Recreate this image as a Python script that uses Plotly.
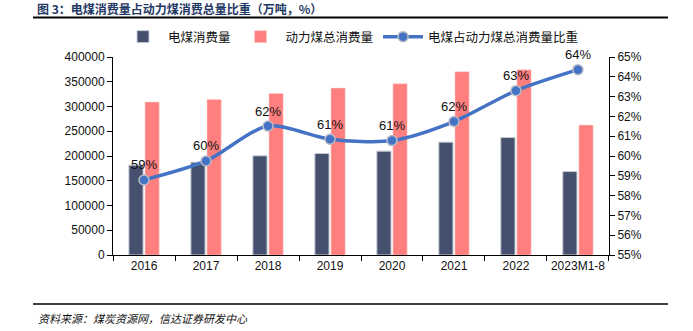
import plotly.graph_objects as go

categories = ["2016", "2017", "2018", "2019", "2020", "2021", "2022", "2023M1-8"]
power_coal = [181500, 187500, 200300, 205000, 209800, 228000, 237300, 168500]
thermal_coal_total = [309000, 314200, 326400, 337300, 346000, 370300, 374300, 262400]
share_pct = [58.79, 59.75, 61.51, 60.85, 60.78, 61.74, 63.30, 64.36]
share_labels = ["59%", "60%", "62%", "61%", "61%", "62%", "63%", "64%"]

W, H = 693, 331
L, R, T, B = 113, 84, 57, 76
pw, ph = W - L - R, H - T - B

def px(x):
    return (x - L) / pw

def py(y):
    return (H - B - y) / ph

fig = go.Figure()
fig.add_trace(go.Bar(
    x=categories, y=power_coal, name="电煤消费量",
    marker=dict(color="#44506E", line=dict(color="#C8CCD6", width=1)),
))
fig.add_trace(go.Bar(
    x=categories, y=thermal_coal_total, name="动力煤总消费量",
    marker=dict(color="#FF7F7F", line=dict(color="#FFD0D0", width=0.5)),
))
fig.add_trace(go.Scatter(
    x=categories, y=share_pct, name="电煤占动力煤总消费量比重",
    yaxis="y2", mode="lines+markers+text", cliponaxis=False,
    line=dict(color="#4472C4", width=3.5, shape="spline", smoothing=0.8),
    marker=dict(color="#4472C4", size=10, line=dict(color="#B8BCC8", width=1.5)),
    text=share_labels, textposition="top center",
    textfont=dict(family="Arial, Liberation Sans", size=13, color="#111111"),
))

axis_font = dict(family="Arial, Liberation Sans", size=12, color="#111111")
fig.update_layout(
    width=W, height=H,
    margin=dict(l=L, r=R, t=T, b=B),
    paper_bgcolor="white", plot_bgcolor="white",
    barmode="group", bargap=0.48, bargroupgap=0.12,
    showlegend=True,
    legend=dict(orientation="h", x=px(118), y=py(37), xanchor="left", yanchor="middle",
                font=dict(family="Noto Sans CJK SC", size=12.5, color="#111111"),
                itemwidth=40, tracegroupgap=0, bgcolor="rgba(0,0,0,0)"),
    xaxis=dict(type="category", showline=True, linecolor="black", linewidth=1,
               ticks="outside", tickson="boundaries", ticklen=5, tickcolor="black",
               tickfont=axis_font, showgrid=False, tickangle=0),
    yaxis=dict(range=[0, 400000], dtick=50000, showline=True, linecolor="black", linewidth=1,
               ticks="outside", ticklen=5, tickcolor="black", tickfont=axis_font,
               showgrid=False, zeroline=False, tickformat="d"),
    yaxis2=dict(range=[55, 65], dtick=1, overlaying="y", side="right", showline=True,
                linecolor="black", linewidth=1, ticks="outside", ticklen=5, tickcolor="black",
                tickfont=axis_font, ticksuffix="%", showgrid=False, zeroline=False),
    font=dict(family="Noto Sans CJK SC"),
)

fig.add_annotation(xref="paper", yref="paper", x=px(35), y=py(8), xanchor="left", yanchor="middle",
                   text="<b>图 3：电煤消费量占动力煤消费总量比重（万吨，%）</b>", showarrow=False,
                   font=dict(family="Noto Sans CJK SC", size=12, color="#1F3864"))
fig.add_shape(type="line", xref="paper", yref="paper", x0=px(33), x1=px(668), y0=py(17.5), y1=py(17.5),
              line=dict(color="black", width=2))
fig.add_shape(type="line", xref="paper", yref="paper", x0=px(33), x1=px(668), y0=py(304), y1=py(304),
              line=dict(color="black", width=1.5))
fig.add_annotation(xref="paper", yref="paper", x=px(36), y=py(318), xanchor="left", yanchor="middle",
                   text="<i>资料来源：煤炭资源网，信达证券研发中心</i>", showarrow=False,
                   font=dict(family="Noto Sans CJK SC", size=11, color="#111111"))

fig.write_html("out.html")
